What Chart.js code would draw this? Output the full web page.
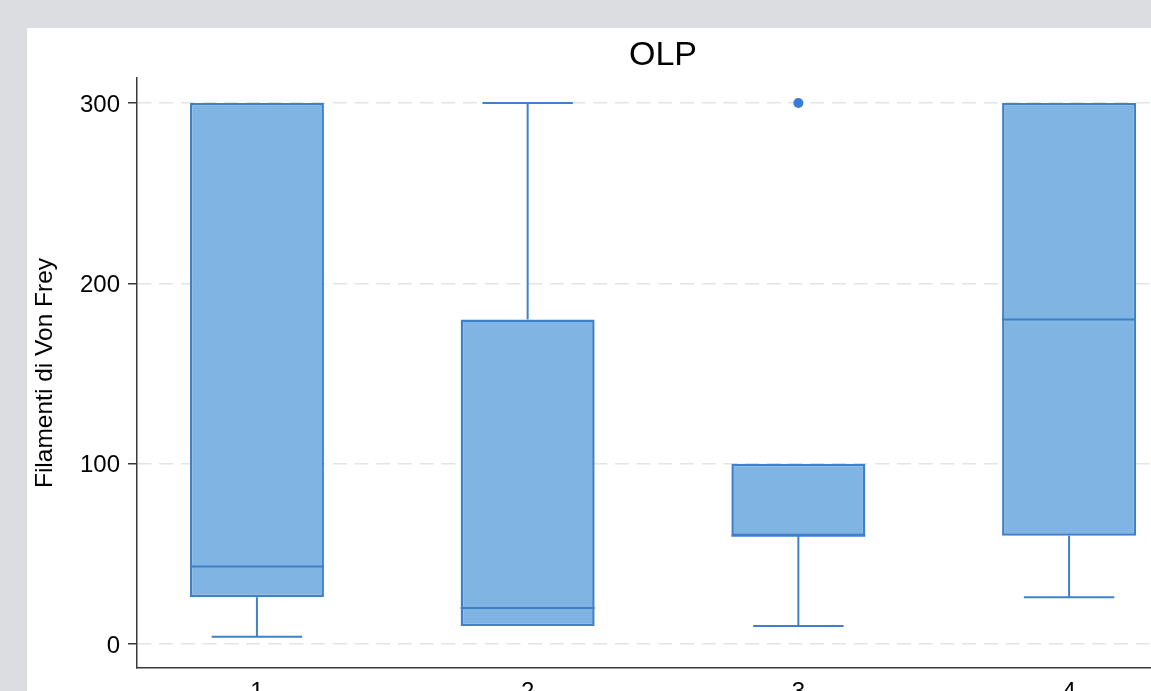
<!DOCTYPE html>
<html>
<head>
<meta charset="utf-8">
<title>OLP</title>
<script src="https://cdn.jsdelivr.net/npm/chart.js@4/dist/chart.umd.min.js"></script>
<style>
  html, body { margin: 0; padding: 0; overflow: hidden; background: #dcdde0; width: 1151px; height: 691px; }
  #panel { position: absolute; left: 27px; top: 28px; width: 1200px; height: 700px; background: #ffffff; }
  #chart { display: block; }
</style>
</head>
<body>
<div id="panel"><canvas id="chart" width="1200" height="700"></canvas></div>
<script>
// Box-plot summary per group
const groups = [1, 2, 3, 4];
const groupLabels = ['1', '2', '3', '4'];
const whiskerLow = [4, 10, 10, 26];
const q1 = [26, 10, 60, 60];
const median = [43, 20, 60, 180];
const q3 = [300, 180, 100, 300];
const whiskerHigh = [300, 300, 100, 300];
const outlierGroups = [3];
const outlierValues = [300];
const yTicks = [0, 100, 200, 300];

// styling
const FILL = '#80b5e3';
const LINE = '#3f80ca';
const BOX_WIDTH = 0.495;   // in group units
const CAP_WIDTH = 0.334;   // in group units
const FONT = '"Liberation Sans", Arial, Helvetica, sans-serif';

function seg(x1, y1, x2, y2) {
  return {
    type: 'line',
    data: [{x: x1, y: y1}, {x: x2, y: y2}],
    borderColor: LINE,
    borderWidth: 2,
    pointRadius: 0,
    fill: false,
    order: 1
  };
}

const datasets = [];
groups.forEach((g, i) => {
  // median line across the box
  datasets.push(seg(g - BOX_WIDTH / 2, median[i], g + BOX_WIDTH / 2, median[i]));
  // lower whisker with cap
  if (whiskerLow[i] < q1[i]) {
    datasets.push(seg(g, q1[i], g, whiskerLow[i]));
    datasets.push(seg(g - CAP_WIDTH / 2, whiskerLow[i], g + CAP_WIDTH / 2, whiskerLow[i]));
  }
  // upper whisker with cap
  if (whiskerHigh[i] > q3[i]) {
    datasets.push(seg(g, q3[i], g, whiskerHigh[i]));
    datasets.push(seg(g - CAP_WIDTH / 2, whiskerHigh[i], g + CAP_WIDTH / 2, whiskerHigh[i]));
  }
});

// outside values
datasets.push({
  type: 'line',
  showLine: false,
  data: outlierGroups.map((g, k) => ({x: g, y: outlierValues[k]})),
  pointRadius: 5,
  pointBackgroundColor: '#3a7bd5',
  pointBorderColor: '#3a7bd5',
  pointBorderWidth: 0,
  order: 0
});

// interquartile boxes
datasets.push({
  type: 'bar',
  data: groups.map((g, i) => ({x: g, y: [q1[i], q3[i]]})),
  backgroundColor: FILL,
  borderColor: LINE,
  borderWidth: 2.5,
  borderSkipped: false,
  categoryPercentage: 1,
  barPercentage: BOX_WIDTH,
  order: 2
});

new Chart(document.getElementById('chart'), {
  type: 'bar',
  data: { datasets },
  options: {
    responsive: false,
    animation: false,
    events: [],
    layout: { padding: { left: 0, right: 38, top: 0, bottom: 0 } },
    plugins: {
      legend: { display: false },
      tooltip: { enabled: false },
      title: {
        display: true,
        text: 'OLP',
        fullSize: false,
        color: '#000',
        font: { family: FONT, size: 34, weight: 'normal', lineHeight: 1.2 },
        padding: { top: 7.6, bottom: 1.6 }
      }
    },
    scales: {
      x: {
        type: 'linear',
        min: 0.557,
        max: 4.443,
        offset: false,
        afterBuildTicks: s => { s.ticks = groups.map(v => ({value: v})); },
        afterFit: s => { s.height = 60; },
        ticks: {
          color: '#000',
          padding: 10,
          font: { family: FONT, size: 24 },
          callback: v => groupLabels[groups.indexOf(v)] ?? ''
        },
        grid: { display: false, drawTicks: false, offset: false },
        border: { display: true, color: '#3a3a3a', width: 1.5 }
      },
      y: {
        min: -13.3,
        max: 313.9,
        afterBuildTicks: s => { s.ticks = yTicks.map(v => ({value: v})); },
        afterFit: s => { s.width = 110; },
        ticks: {
          color: '#000',
          padding: 8,
          labelOffset: 2,
          font: { family: FONT, size: 24 }
        },
        grid: {
          color: '#e4e4e4',
          lineWidth: 1.5,
          drawTicks: true,
          tickLength: 9,
          tickColor: '#3a3a3a',
          tickWidth: 1.5
        },
        border: { display: true, color: '#3a3a3a', width: 1.5, dash: [14, 7.7] },
        title: {
          display: true,
          text: 'Filamenti di Von Frey',
          color: '#000',
          font: { family: FONT, size: 24.5, lineHeight: 1.2 },
          padding: { top: 4, bottom: 0 }
        }
      }
    }
  }
});
</script>
</body>
</html>
